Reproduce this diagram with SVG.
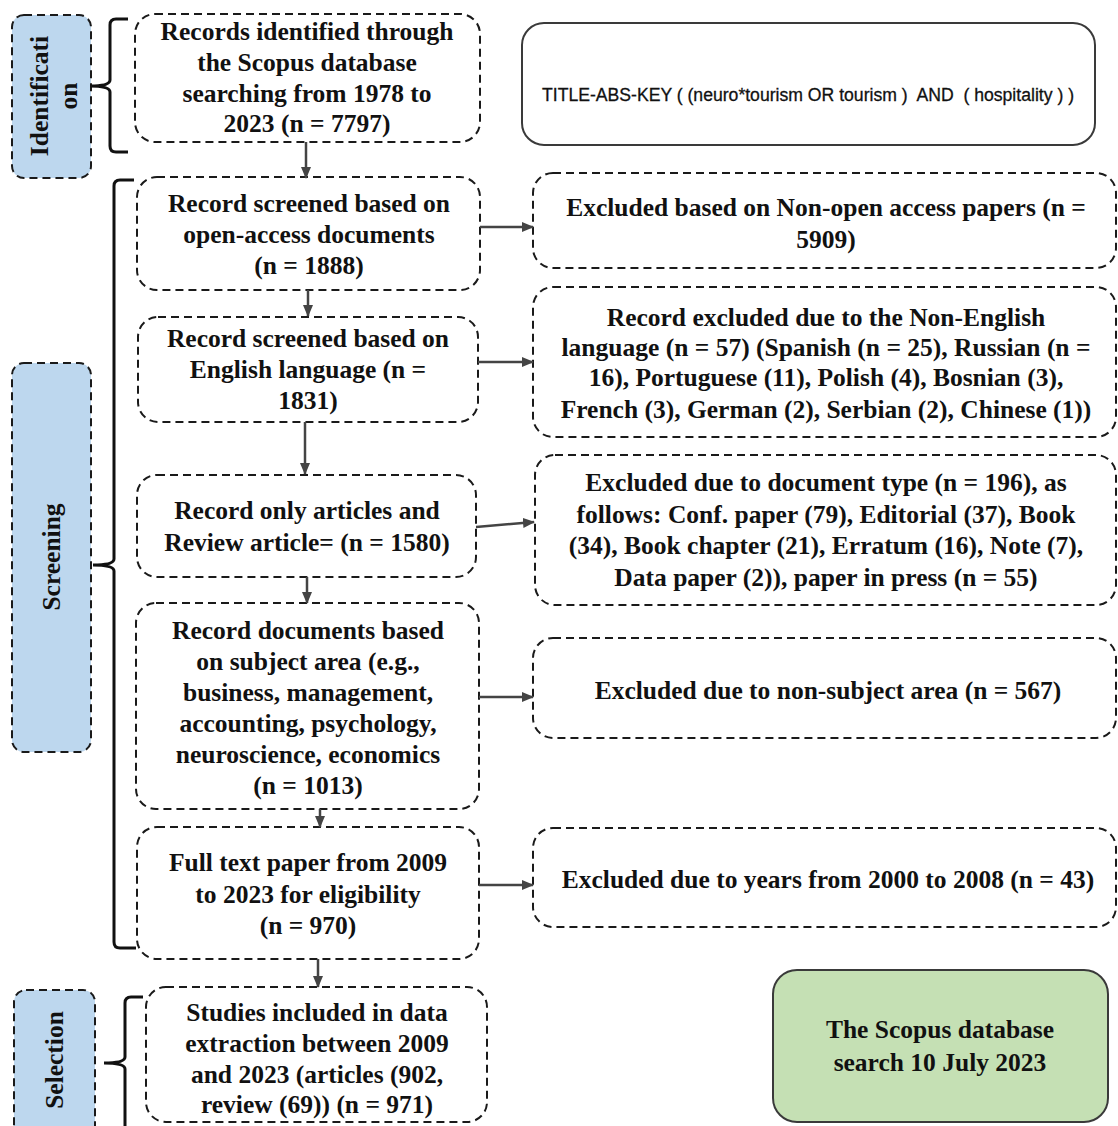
<svg xmlns="http://www.w3.org/2000/svg" width="1118" height="1126" viewBox="0 0 1118 1126">
<style>
.bg{fill:#ffffff}
.box{fill:#ffffff;stroke:#1a1a1a;stroke-width:2;stroke-dasharray:8 5}
.lab{fill:#bdd7ee;stroke:#1a1a1a;stroke-width:2;stroke-dasharray:8 5}
.solid{fill:#ffffff;stroke:#3a3a3a;stroke-width:2}
.green{fill:#c5e0b4;stroke:#3a3a3a;stroke-width:2}
.t{font-family:"Liberation Serif","DejaVu Serif",serif;font-weight:bold;font-size:25.5px;fill:#111;text-anchor:middle}
.q{font-family:"Liberation Sans","DejaVu Sans",sans-serif;font-size:18px;fill:#111;text-anchor:middle;stroke:#111;stroke-width:0.3}
.br{fill:none;stroke:#111;stroke-width:3}
.ar{fill:none;stroke:#444;stroke-width:2.5}
</style>
<defs>
<marker id="ah" markerUnits="userSpaceOnUse" markerWidth="12" markerHeight="12" refX="11" refY="6" orient="auto">
<path d="M0,1 L12,6 L0,11 z" fill="#444"/>
</marker>
</defs>
<rect class="bg" x="0" y="0" width="1118" height="1126"/>

<g id="label-identification">
<rect class="lab" x="12" y="15" width="79" height="163" rx="12"/>
<text class="t" transform="translate(48,96) rotate(-90)">Identificati</text>
<text class="t" transform="translate(77,96) rotate(-90)">on</text>
</g>
<g id="label-screening">
<rect class="lab" x="12" y="363" width="79" height="389" rx="12"/>
<text class="t" transform="translate(60,557) rotate(-90)">Screening</text>
</g>
<g id="label-selection">
<rect class="lab" x="14" y="990" width="81" height="150" rx="12"/>
<text class="t" transform="translate(63,1060) rotate(-90)">Selection</text>
</g>

<g id="brackets">
<path class="br" d="M128,19 L116,19 Q110,19 110,25 L110,80 Q110,86 90,86 Q110,86 110,92 L110,146 Q110,152 116,152 L128,152"/>
<path class="br" d="M134,180 L120,180 Q114,180 114,186 L114,559 Q114,565 93,565 Q114,565 114,571 L114,942 Q114,948 120,948 L136,948"/>
<path class="br" d="M143,997 L131,997 Q125,997 125,1003 L125,1057 Q125,1063 104,1063 Q125,1063 125,1069 L125,1130"/>
</g>

<g id="n1">
<rect class="box" x="135" y="14" width="345" height="128" rx="20"/>
<text class="t" x="307" y="40">Records identified through</text>
<text class="t" x="307" y="71">the Scopus database</text>
<text class="t" x="307" y="102">searching from 1978 to</text>
<text class="t" x="307" y="132">2023 (n = 7797)</text>
</g>

<g id="query">
<rect class="solid" x="522" y="23" width="573" height="122" rx="22"/>
<text class="q" x="808" y="101" xml:space="preserve" textLength="532" lengthAdjust="spacingAndGlyphs">TITLE-ABS-KEY ( (neuro*tourism OR tourism )  AND  ( hospitality ) )</text>
</g>

<g id="n2">
<rect class="box" x="137" y="177" width="343" height="113" rx="20"/>
<text class="t" x="309" y="212">Record screened based on</text>
<text class="t" x="309" y="243">open-access documents</text>
<text class="t" x="309" y="274">(n = 1888)</text>
</g>

<g id="n3">
<rect class="box" x="138" y="317" width="340" height="105" rx="20"/>
<text class="t" x="308" y="347">Record screened based on</text>
<text class="t" x="308" y="378">English language (n =</text>
<text class="t" x="308" y="409">1831)</text>
</g>

<g id="n4">
<rect class="box" x="137" y="475" width="339" height="102" rx="20"/>
<text class="t" x="307" y="519">Record only articles and</text>
<text class="t" x="307" y="551">Review article= (n = 1580)</text>
</g>

<g id="n5">
<rect class="box" x="136" y="603" width="343" height="206" rx="20"/>
<text class="t" x="308" y="639">Record documents based</text>
<text class="t" x="308" y="670">on subject area (e.g.,</text>
<text class="t" x="308" y="701">business, management,</text>
<text class="t" x="308" y="732">accounting, psychology,</text>
<text class="t" x="308" y="763">neuroscience, economics</text>
<text class="t" x="308" y="794">(n = 1013)</text>
</g>

<g id="n6">
<rect class="box" x="137" y="827" width="342" height="132" rx="20"/>
<text class="t" x="308" y="871">Full text paper from 2009</text>
<text class="t" x="308" y="903">to 2023 for eligibility</text>
<text class="t" x="308" y="934">(n = 970)</text>
</g>

<g id="n7">
<rect class="box" x="146" y="987" width="341" height="135" rx="20"/>
<text class="t" x="317" y="1021">Studies included in data</text>
<text class="t" x="317" y="1052">extraction between 2009</text>
<text class="t" x="317" y="1083">and 2023 (articles (902,</text>
<text class="t" x="317" y="1113">review (69)) (n = 971)</text>
</g>

<g id="r1">
<rect class="box" x="533" y="173" width="583" height="95" rx="20"/>
<text class="t" x="826" y="216">Excluded based on Non-open access papers (n =</text>
<text class="t" x="826" y="248">5909)</text>
</g>

<g id="r2">
<rect class="box" x="533" y="287" width="583" height="150" rx="20"/>
<text class="t" x="826" y="326">Record excluded due to the Non-English</text>
<text class="t" x="826" y="356">language (n = 57) (Spanish (n = 25), Russian (n =</text>
<text class="t" x="826" y="386">16), Portuguese (11), Polish (4), Bosnian (3),</text>
<text class="t" x="826" y="418">French (3), German (2), Serbian (2), Chinese (1))</text>
</g>

<g id="r3">
<rect class="box" x="535" y="455" width="581" height="150" rx="20"/>
<text class="t" x="826" y="491">Excluded due to document type (n = 196), as</text>
<text class="t" x="826" y="523">follows: Conf. paper (79), Editorial (37), Book</text>
<text class="t" x="826" y="554">(34), Book chapter (21), Erratum (16), Note (7),</text>
<text class="t" x="826" y="586">Data paper (2)), paper in press (n = 55)</text>
</g>

<g id="r4">
<rect class="box" x="533" y="638" width="583" height="100" rx="20"/>
<text class="t" x="828" y="699">Excluded due to non-subject area (n = 567)</text>
</g>

<g id="r5">
<rect class="box" x="533" y="828" width="583" height="99" rx="20"/>
<text class="t" x="828" y="888">Excluded due to years from 2000 to 2008 (n = 43)</text>
</g>

<g id="date">
<rect class="green" x="773" y="970" width="335" height="152" rx="24"/>
<text class="t" x="940" y="1038">The Scopus database</text>
<text class="t" x="940" y="1071">search 10 July 2023</text>
</g>

<g id="connectors">
<line class="ar" x1="306" y1="142" x2="306" y2="178" marker-end="url(#ah)"/>
<line class="ar" x1="308" y1="290" x2="308" y2="316" marker-end="url(#ah)"/>
<line class="ar" x1="305" y1="422" x2="305" y2="474" marker-end="url(#ah)"/>
<line class="ar" x1="307" y1="577" x2="307" y2="603" marker-end="url(#ah)"/>
<line class="ar" x1="320" y1="809" x2="320" y2="827" marker-end="url(#ah)"/>
<line class="ar" x1="318" y1="959" x2="318" y2="987" marker-end="url(#ah)"/>
<line class="ar" x1="480" y1="227" x2="533" y2="227" marker-end="url(#ah)"/>
<line class="ar" x1="478" y1="362" x2="533" y2="362" marker-end="url(#ah)"/>
<line class="ar" x1="476" y1="527" x2="534" y2="522" marker-end="url(#ah)"/>
<line class="ar" x1="479" y1="697" x2="533" y2="697" marker-end="url(#ah)"/>
<line class="ar" x1="479" y1="885" x2="533" y2="885" marker-end="url(#ah)"/>
</g>
</svg>
